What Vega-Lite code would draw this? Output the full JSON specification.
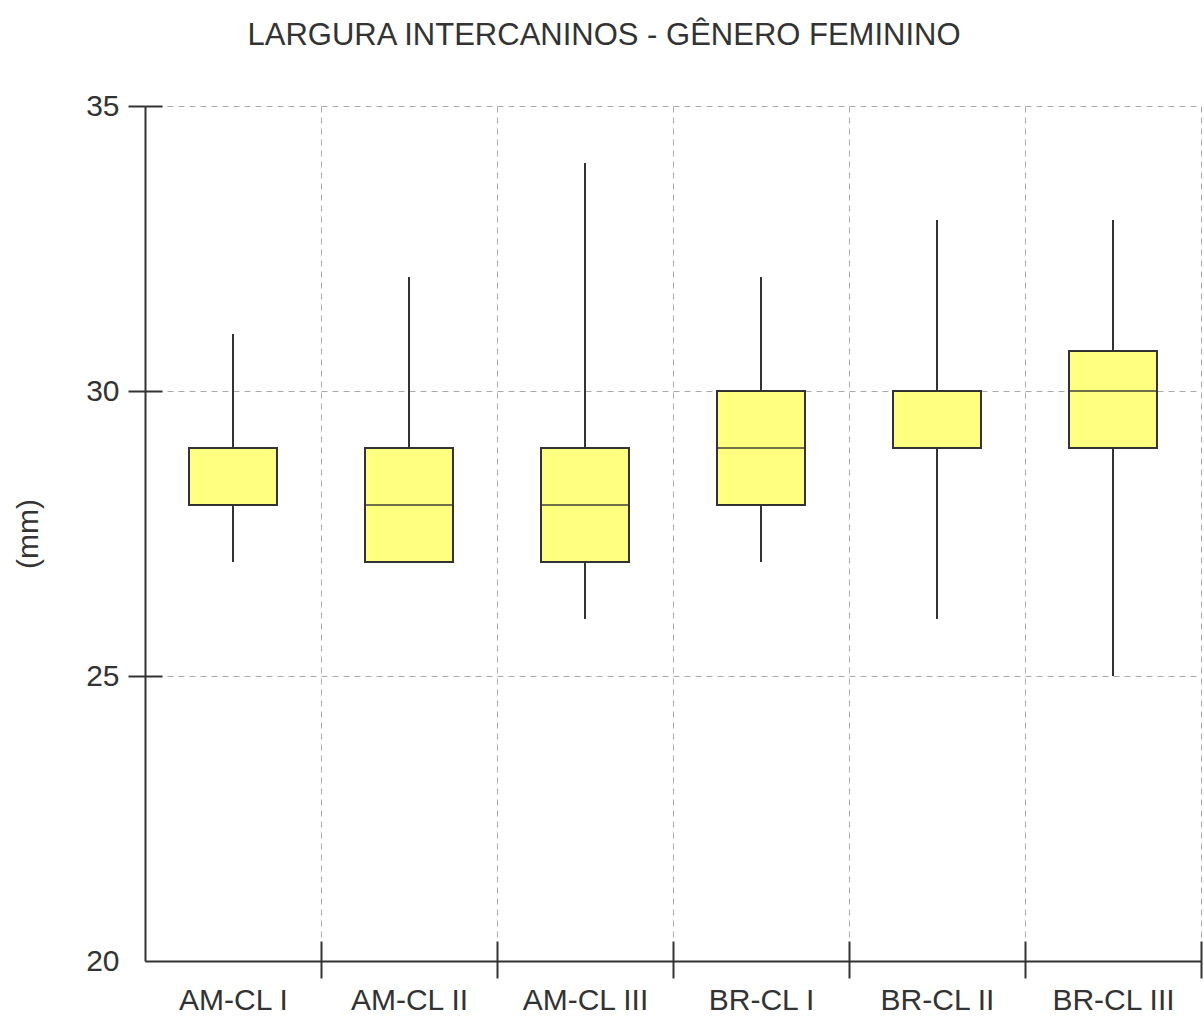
{
  "$schema": "https://vega.github.io/schema/vega-lite/v6.json",
  "autosize": "none",
  "width": 1056,
  "height": 855,
  "padding": {"left": 145, "top": 106, "right": 3, "bottom": 58},
  "background": "white",
  "config": {
    "view": {"stroke": null},
    "font": "Liberation Sans",
    "axis": {"labelFont": "Liberation Sans", "titleFont": "Liberation Sans"}
  },
  "title": {
    "text": "LARGURA INTERCANINOS - GÊNERO FEMININO",
    "font": "Liberation Sans",
    "fontSize": 31,
    "fontWeight": "normal",
    "color": "#333333",
    "anchor": "middle",
    "frame": "group",
    "baseline": "alphabetic",
    "offset": 15,
    "dx": -69
  },
  "data": {
    "values": [
      {"group": "AM-CL I", "min": 27, "q1": 28, "median": 29, "q3": 29, "max": 31},
      {"group": "AM-CL II", "min": 27, "q1": 27, "median": 28, "q3": 29, "max": 32},
      {"group": "AM-CL III", "min": 26, "q1": 27, "median": 28, "q3": 29, "max": 34},
      {"group": "BR-CL I", "min": 27, "q1": 28, "median": 29, "q3": 30, "max": 32},
      {"group": "BR-CL II", "min": 26, "q1": 29, "median": 29, "q3": 30, "max": 33},
      {"group": "BR-CL III", "min": 25, "q1": 29, "median": 30, "q3": 30.7, "max": 33}
    ]
  },
  "layer": [
    {
      "mark": {"type": "rule", "color": "#333333", "strokeWidth": 2},
      "encoding": {
        "x": {
          "field": "group", "type": "nominal", "sort": null,
          "scale": {"paddingInner": 0, "paddingOuter": 0},
          "axis": {
            "title": null, "orient": "bottom",
            "tickBand": "extent", "labelAngle": 0, "ticks": false,
            "labelFontSize": 30, "labelColor": "#333333", "labelPadding": 24,
            "domainColor": "#333333", "domainWidth": 2,
            "grid": true, "gridColor": "#aaaaaa", "gridDash": [6, 5], "gridWidth": 1
          }
        },
        "y": {
          "field": "min", "type": "quantitative",
          "scale": {"domain": [20, 35], "nice": false, "zero": false},
          "axis": {
            "title": "(mm)", "titleFontSize": 30, "titleFontWeight": "normal", "titleColor": "#333333", "titlePadding": 42,
            "values": [20, 25, 30, 35], "ticks": false,
            "labelFontSize": 30, "labelColor": "#333333", "labelPadding": 26,
            "domainColor": "#333333", "domainWidth": 2,
            "grid": true, "gridColor": "#aaaaaa", "gridDash": [6, 5], "gridWidth": 1
          }
        },
        "y2": {"field": "max"}
      }
    },
    {
      "mark": {"type": "bar", "fill": "#ffff80", "stroke": "#333333", "strokeWidth": 2, "width": {"band": 0.5}},
      "encoding": {
        "x": {
          "field": "group", "type": "nominal", "sort": null,
          "axis": {
            "title": null, "orient": "bottom", "tickOffset": 88,
            "labels": false, "domain": false, "grid": false,
            "tickSize": 17, "tickColor": "#333333", "tickWidth": 2
          }
        },
        "y": {
          "field": "q1", "type": "quantitative",
          "axis": {
            "title": null, "orient": "left",
            "values": [25, 30, 35], "labels": false, "domain": false, "grid": false,
            "tickSize": 17, "tickColor": "#333333", "tickWidth": 2
          }
        },
        "y2": {"field": "q3"}
      }
    },
    {
      "mark": {"type": "tick", "color": "#333333", "thickness": 2, "size": 88},
      "encoding": {
        "x": {
          "field": "group", "type": "nominal", "sort": null,
          "axis": {
            "title": null, "orient": "bottom", "offset": -20, "tickOffset": 88,
            "labels": false, "domain": false, "grid": false,
            "tickSize": 20, "tickColor": "#333333", "tickWidth": 2
          }
        },
        "y": {
          "field": "median", "type": "quantitative",
          "axis": {
            "title": null, "orient": "left", "offset": -17,
            "values": [25, 30, 35], "labels": false, "domain": false, "grid": false,
            "tickSize": 17, "tickColor": "#333333", "tickWidth": 2
          }
        }
      }
    }
  ],
  "resolve": {"axis": {"x": "independent", "y": "independent"}}
}
